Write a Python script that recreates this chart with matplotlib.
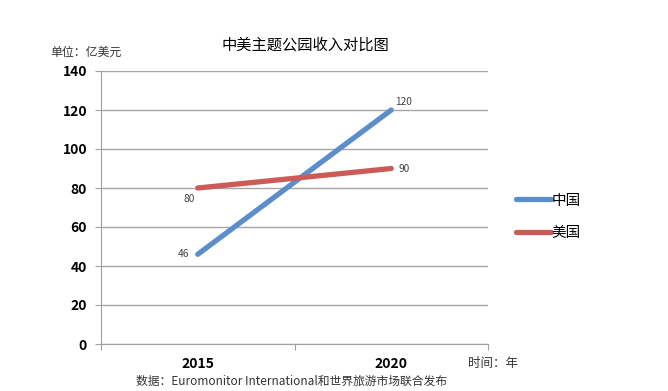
import matplotlib
matplotlib.use('Agg')
from matplotlib import pyplot as plt

plt.rcParams['font.family'] = ['Noto Sans CJK SC', 'DejaVu Sans']

years = ['2015', '2020']
china = [46, 120]
usa = [80, 90]
yticks = [0, 20, 40, 60, 80, 100, 120, 140]

fig = plt.figure(figsize=(6.68, 3.91), dpi=100)
ax = fig.add_axes([101 / 668, 1 - 344 / 391, 387 / 668, 273 / 391])

xs = [0.5, 1.5]
ax.plot(xs, china, color='#5B8ECB', lw=3.8, solid_capstyle='round', label='中国')
ax.plot(xs, usa, color='#CC5B57', lw=3.8, solid_capstyle='round', label='美国')

# data labels
lab_kw = dict(fontsize=7.3, color='#404040')
ax.annotate(str(china[0]), (xs[0], china[0]), xytext=(-10, 0), textcoords='offset points',
            ha='center', va='center', **lab_kw)
ax.annotate(str(china[1]), (xs[1], china[1]), xytext=(9, 6), textcoords='offset points',
            ha='center', va='center', **lab_kw)
ax.annotate(str(usa[0]), (xs[0], usa[0]), xytext=(-6, -8), textcoords='offset points',
            ha='center', va='center', **lab_kw)
ax.annotate(str(usa[1]), (xs[1], usa[1]), xytext=(9, 0), textcoords='offset points',
            ha='center', va='center', **lab_kw)

ax.set_xlim(0, 2)
ax.set_ylim(0, 140)
ax.set_yticks(yticks)
ax.set_yticklabels([str(v) for v in yticks], fontsize=10, fontweight='bold')
ax.set_xticks([0, 1, 2])
ax.set_xticklabels([])
ax.set_xticks(xs, minor=True)
ax.set_xticklabels(years, minor=True, fontsize=10, fontweight='bold')
ax.tick_params(axis='x', which='minor', length=0, pad=9)
ax.tick_params(axis='x', which='major', length=4, color='#A0A0A0')
ax.tick_params(axis='y', length=4, color='#A0A0A0', pad=6)
ax.grid(axis='y', color='#A6A6A6', lw=1)
ax.set_axisbelow(True)
for s in ['top', 'right']:
    ax.spines[s].set_visible(False)
ax.spines['left'].set_color('#A0A0A0')
ax.spines['bottom'].set_color('#A0A0A0')

fig.text(305 / 668, 1 - 45 / 391, '中美主题公园收入对比图', fontsize=11, ha='center', va='center')
fig.text(50 / 668, 1 - 52 / 391, '单位：亿美元', fontsize=8.6, ha='left', va='center', color='#333333')
fig.text(468 / 668, 1 - 363 / 391, '时间：年', fontsize=9, ha='left', va='center', color='#333333')
fig.text(136 / 668, 1 - 381 / 391, '数据：Euromonitor International和世界旅游市场联合发布',
         fontsize=8.5, ha='left', va='center', color='#333333')

fig.legend(loc='center left', bbox_to_anchor=(503 / 668, 1 - 217 / 391), frameon=False,
           fontsize=10.5, handlelength=2.4, handletextpad=0.0, labelspacing=1.3)

fig.savefig('out.png', dpi=100)
